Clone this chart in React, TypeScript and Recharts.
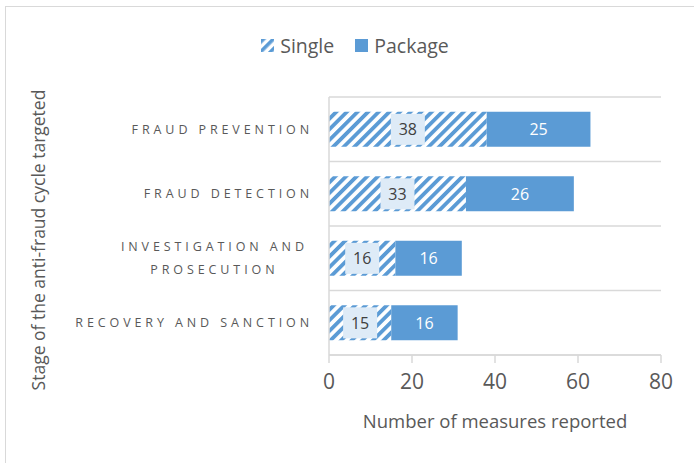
import React from 'react';
import { BarChart, Bar, XAxis, YAxis, CartesianGrid, Legend, LabelList, Label } from 'recharts';

const categories = ['Fraud prevention', 'Fraud detection', 'Investigation and prosecution', 'Recovery and sanction'];
const tickLines = [['FRAUD PREVENTION'], ['FRAUD DETECTION'], ['INVESTIGATION AND', 'PROSECUTION'], ['RECOVERY AND SANCTION']];
const singleValues = [38, 33, 16, 15];
const packageValues = [25, 26, 16, 16];
const xTicks = [0, 20, 40, 60, 80];
const seriesNames = ['Single', 'Package'];

const data = categories.map((c, i) => ({ name: c, single: singleValues[i], pkg: packageValues[i] }));

const FONT = '"Open Sans", sans-serif';
const BLUE = '#5B9BD5';
const TEXT = '#595959';
const GRID = '#D9D9D9';

const CategoryTick = (props: any) => {
  const { x, y, payload } = props;
  const idx = categories.indexOf(payload.value);
  const lines = idx >= 0 ? tickLines[idx] : [String(payload.value)];
  const common = { fontFamily: FONT, fontSize: 12.5, fill: TEXT, letterSpacing: '3.9px' } as any;
  if (lines.length === 1) {
    return (
      <text x={x} y={y} textAnchor="end" dominantBaseline="central" {...common}>
        {lines[0]}
      </text>
    );
  }
  const maxLen = Math.max(...lines.map((l) => l.length));
  const cx = x - (maxLen * 11.6) / 2;
  const lh = 23;
  return (
    <g>
      {lines.map((l, i) => (
        <text key={i} x={cx} y={y + (i - (lines.length - 1) / 2) * lh} textAnchor="middle" dominantBaseline="central" {...common}>
          {l}
        </text>
      ))}
    </g>
  );
};

const SingleLabel = (props: any) => {
  const { x, y, width, height, value } = props;
  const bw = 34;
  const bh = height - 4;
  const cx = x + width / 2;
  const cy = y + height / 2;
  return (
    <g>
      <rect x={cx - bw / 2} y={cy - bh / 2} width={bw} height={bh} fill="#DEEBF7" />
      <text x={cx} y={cy} textAnchor="middle" dominantBaseline="central" fontFamily={FONT} fontSize={16} fill="#404040">
        {value}
      </text>
    </g>
  );
};

const PackageLabel = (props: any) => {
  const { x, y, width, height, value } = props;
  return (
    <text x={x + width / 2} y={y + height / 2} textAnchor="middle" dominantBaseline="central" fontFamily={FONT} fontSize={16} fill="#FFFFFF">
      {value}
    </text>
  );
};

const renderLegend = () => (
  <div
    style={{
      display: 'flex',
      justifyContent: 'center',
      alignItems: 'center',
      height: 30,
      fontFamily: FONT,
      fontSize: 19.5,
      color: TEXT,
      paddingLeft: 16,
    }}
  >
    <svg width={13} height={13} style={{ marginRight: 6 }}>
      <defs>
        <pattern id="hatchLegend" patternUnits="userSpaceOnUse" width="7" height="7" patternTransform="rotate(45)">
          <rect x="0" y="0" width="3.6" height="7" fill={BLUE} />
        </pattern>
      </defs>
      <rect x={0} y={0} width={13} height={13} fill="url(#hatchLegend)" />
    </svg>
    <span style={{ marginRight: 21 }}>{seriesNames[0]}</span>
    <svg width={13} height={13} style={{ marginRight: 6 }}>
      <rect x={0} y={0} width={13} height={13} fill={BLUE} />
    </svg>
    <span>{seriesNames[1]}</span>
  </div>
);

const gridGen = ({ offset }: any) => {
  const n = categories.length;
  const pts: number[] = [];
  for (let i = 0; i <= n; i++) pts.push(offset.top + (i * offset.height) / n);
  return pts;
};

export default function App() {
  return (
    <div style={{ position: 'absolute', left: 0, top: 0, width: 694, height: 463, background: '#fff' }}>
      <div style={{ position: 'absolute', left: 5, top: 6, width: 700, height: 470, borderLeft: `1px solid ${GRID}`, borderTop: `1px solid ${GRID}` }} />
      <div style={{ position: 'absolute', left: 0, top: 0 }}>
        <BarChart
          width={694}
          height={463}
          data={data}
          layout="vertical"
          margin={{ top: 67, right: 33, left: 0, bottom: 0 }}
          barCategoryGap="23%"
        >
          <defs>
            <pattern id="hatch" patternUnits="userSpaceOnUse" width="7.5" height="7.5" patternTransform="rotate(45)">
              <rect x="0" y="0" width="7.5" height="7.5" fill="#FFFFFF" />
              <rect x="0" y="0" width="3.8" height="7.5" fill={BLUE} />
            </pattern>
          </defs>
          <Legend verticalAlign="top" align="center" content={renderLegend} wrapperStyle={{ top: 30, left: 0, width: 694 }} />
          <CartesianGrid horizontal vertical={false} stroke={GRID} strokeWidth={1.5} horizontalCoordinatesGenerator={gridGen} />
          <XAxis
            type="number"
            domain={[0, 80]}
            ticks={xTicks}
            height={108}
            axisLine={{ stroke: GRID, strokeWidth: 1.5 }}
            tickLine={{ stroke: GRID, strokeWidth: 1.5 }}
            tickSize={8}
            tickMargin={11}
            tick={{ fontFamily: FONT, fontSize: 21, fill: TEXT }}
          >
            <Label
              content={(p: any) => {
                const vb = p.viewBox;
                return (
                  <text x={vb.x + vb.width / 2} y={420} textAnchor="middle" dominantBaseline="central" fontFamily={FONT} fontSize={18.5} fill={TEXT}>
                    Number of measures reported
                  </text>
                );
              }}
            />
          </XAxis>
          <YAxis
            type="category"
            dataKey="name"
            width={329}
            axisLine={{ stroke: GRID, strokeWidth: 1.5 }}
            tickLine={false}
            tickSize={0}
            tickMargin={16}
            tick={<CategoryTick />}
            interval={0}
          >
            <Label
              content={(p: any) => {
                const vb = p.viewBox;
                const cy = vb.y + vb.height / 2 + 14;
                return (
                  <text x={38} y={cy} transform={`rotate(-90, 38, ${cy})`} textAnchor="middle" dominantBaseline="central" fontFamily={FONT} fontSize={17.5} fill={TEXT}>
                    Stage of the anti-fraud cycle targeted
                  </text>
                );
              }}
            />
          </YAxis>
          <Bar dataKey="single" name={seriesNames[0]} stackId="a" fill="url(#hatch)" isAnimationActive={false}>
            <LabelList dataKey="single" content={SingleLabel} />
          </Bar>
          <Bar dataKey="pkg" name={seriesNames[1]} stackId="a" fill={BLUE} isAnimationActive={false}>
            <LabelList dataKey="pkg" content={PackageLabel} />
          </Bar>
        </BarChart>
      </div>
    </div>
  );
}
